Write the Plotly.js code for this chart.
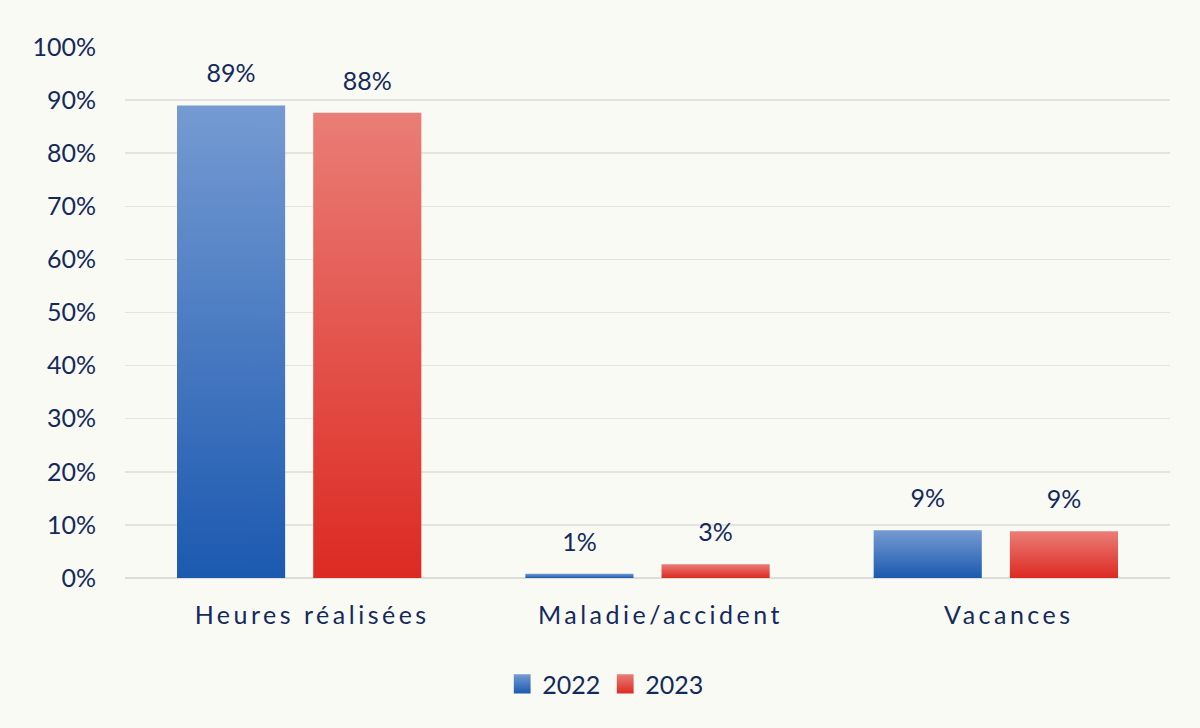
<!DOCTYPE html>
<html>
<head>
<meta charset="utf-8">
<script src="https://cdn.plot.ly/plotly-3.0.1.min.js"></script>
<style>
  html, body { margin: 0; padding: 0; background: #fafaf5; }
  #chart { width: 1200px; height: 728px; }
</style>
</head>
<body>
<div id="chart"></div>
<svg width="0" height="0" style="position:absolute">
  <defs>
    <linearGradient id="gradBlue" x1="0" y1="0" x2="0" y2="1">
      <stop offset="0" stop-color="#759bd2"/>
      <stop offset="1" stop-color="#1c59b0"/>
    </linearGradient>
    <linearGradient id="gradRed" x1="0" y1="0" x2="0" y2="1">
      <stop offset="0" stop-color="#ea7d77"/>
      <stop offset="1" stop-color="#dc2a22"/>
    </linearGradient>
  </defs>
</svg>
<script>
const categories = ['Heures réalisées', 'Maladie/accident', 'Vacances'];
const values2022 = [89, 0.8, 9];
const values2023 = [87.6, 2.6, 8.8];
const seriesNames = ['2022', '2023'];
const yTickVals = [0, 10, 20, 30, 40, 50, 60, 70, 80, 90, 100];

const textColor = '#142a5c';
const fontFamily = 'Lato, "Open Sans", sans-serif';
const fs = 25;

const labelTemplate = '%{y:.0f}%';

const traces = [
  {
    type: 'bar', name: seriesNames[0], x: categories, y: values2022,
    marker: { color: '#4a7cc3' },
    texttemplate: labelTemplate, textposition: 'outside', cliponaxis: false,
    textfont: { family: fontFamily, size: fs, color: textColor },
    hoverinfo: 'none'
  },
  {
    type: 'bar', name: seriesNames[1], x: categories, y: values2023,
    marker: { color: '#e3514b' },
    texttemplate: labelTemplate, textposition: 'outside', cliponaxis: false,
    textfont: { family: fontFamily, size: fs, color: textColor },
    hoverinfo: 'none'
  }
];

const layout = {
  width: 1200, height: 728,
  paper_bgcolor: '#fafaf5', plot_bgcolor: '#fafaf5',
  margin: { l: 125, r: 30, t: 47, b: 150 },
  barmode: 'group', bargap: 0.218, bargroupgap: 0.206,
  font: { family: fontFamily, color: textColor, size: fs },
  showlegend: true,
  legend: {
    orientation: 'h', x: 0.46, xanchor: 'center', y: -0.2, yanchor: 'middle',
    font: { family: fontFamily, size: fs, color: textColor },
    itemwidth: 30, tracegroupgap: 0
  },
  xaxis: {
    type: 'category', showgrid: false, zeroline: false, showline: false,
    ticks: '', ticklabelstandoff: 20,
    tickfont: { family: fontFamily, size: fs, color: textColor }
  },
  yaxis: {
    range: [0, 100], tickvals: yTickVals, ticktext: yTickVals.map(v => v + '%'),
    showgrid: true, gridcolor: '#e3e3df', gridwidth: 1.5,
    zeroline: true, zerolinecolor: '#dcdcd8', zerolinewidth: 1.5,
    showline: false, ticks: '', ticklabelstandoff: 28,
    tickfont: { family: fontFamily, size: fs, color: textColor }
  }
};

Plotly.newPlot('chart', traces, layout, { displayModeBar: false, staticPlot: true }).then(gd => {
  const grads = ['url(#gradBlue)', 'url(#gradRed)'];
  gd.querySelectorAll('.barlayer .trace.bars').forEach((t, i) => {
    t.querySelectorAll('path').forEach(p => { p.style.fill = grads[i]; });
    t.querySelectorAll('text.bartext').forEach(tx => {
      tx.setAttribute('transform', 'translate(0,-15) ' + (tx.getAttribute('transform') || ''));
    });
  });
  gd.querySelectorAll('.legend .traces').forEach((t, i) => {
    t.querySelectorAll('.legendpoints path').forEach(p => {
      p.style.fill = grads[i];
      p.setAttribute('transform', (p.getAttribute('transform') || '') + ' scale(1.4,1.6)');
    });
  });
  gd.querySelectorAll('.xtick text').forEach(t => {
    t.style.letterSpacing = '3.5px';
    t.setAttribute('transform', 'translate(13,0) ' + (t.getAttribute('transform') || ''));
  });
});
</script>
</body>
</html>
